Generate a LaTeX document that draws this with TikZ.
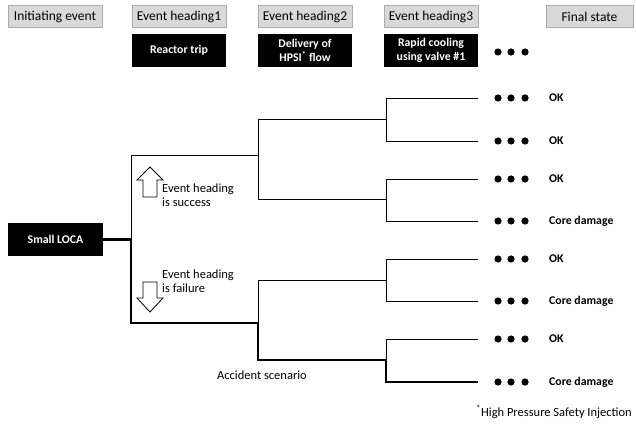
\documentclass[tikz,border=0pt]{standalone}
\usepackage{fontspec}
\setmainfont{Carlito}
\usetikzlibrary{positioning}

\begin{document}
\begin{tikzpicture}[x=1pt,y=-1pt,
    headbox/.style={draw=gray!65, fill=gray!30, minimum width=94pt, minimum height=22pt, inner sep=0pt, font=\fontsize{13.5}{15}\selectfont},
    eventbox/.style={fill=black, text=white, minimum width=94pt, minimum height=33pt, inner sep=0pt, align=center, font=\fontsize{11.8}{14}\selectfont\bfseries},
    branch/.style={line width=0.8pt},
    scenario/.style={line width=2.5pt, line join=miter},
    endlabel/.style={anchor=west, inner sep=0pt, font=\fontsize{11.8}{14}\selectfont\bfseries},
    note/.style={align=left, inner sep=0pt, font=\fontsize{12.5}{14}\selectfont},
    blockarrow/.style={draw, fill=white, line width=0.8pt}]
  \useasboundingbox (0,0) rectangle (636,427);

  % headings
  \node[headbox] (init) at (55,16.5) {Initiating event};
  \node[headbox] (head1) at (179,16.5) {Event heading1};
  \node[headbox] (head2) at (305,16.5) {Event heading2};
  \node[headbox] (head3) at (431,16.5) {Event heading3};
  \node[headbox, minimum width=87pt] (final) at (589.5,16.5) {Final state};

  \node[eventbox, below=6pt of head1] (trip) {Reactor trip};
  \node[eventbox, below=6pt of head2] (hpsi) {Delivery of\\HPSI\textsuperscript{*} flow};
  \node[eventbox, below=6pt of head3] (cool) {Rapid cooling\\using valve \#1};

  \node[eventbox, minimum width=95pt] (loca) at (55.5,239.5) {Small LOCA};

  % branch points
  \coordinate (s0) at (131,239.5);
  \coordinate (s1) at (258,155);
  \coordinate (s2) at (258,323);
  \coordinate (s11) at (386,119);
  \coordinate (s12) at (386,199);
  \coordinate (s21) at (386,280);
  \coordinate (s22) at (386,360);

  % end states
  \coordinate (e1) at (478,98);
  \coordinate (e2) at (478,141);
  \coordinate (e3) at (478,179);
  \coordinate (e4) at (478,221);
  \coordinate (e5) at (478,259);
  \coordinate (e6) at (478,301);
  \coordinate (e7) at (478,339);
  \coordinate (e8) at (478,382);
  \node[endlabel] (f1) at (549,98) {OK};
  \node[endlabel] (f2) at (549,141) {OK};
  \node[endlabel] (f3) at (549,179) {OK};
  \node[endlabel] (f4) at (549,221) {Core damage};
  \node[endlabel] (f5) at (549,259) {OK};
  \node[endlabel] (f6) at (549,301) {Core damage};
  \node[endlabel] (f7) at (549,339) {OK};
  \node[endlabel] (f8) at (549,382) {Core damage};

  \foreach \y in {52,98,141,179,221,259,301,339,382}
    \foreach \x in {498,511,525}
      \fill (\x,\y) circle (3.6);

  % tree
  \draw[branch] (s0) |- (s1);
  \draw[branch] (s1) |- (s11);
  \draw[branch] (s1) |- (s12);
  \draw[branch] (s2) |- (s21);
  \draw[branch] (s11) |- (e1);
  \draw[branch] (s11) |- (e2);
  \draw[branch] (s12) |- (e3);
  \draw[branch] (s12) |- (e4);
  \draw[branch] (s21) |- (e5);
  \draw[branch] (s21) |- (e6);
  \draw[branch] (s22) |- (e7);
  \draw[scenario] (loca.east) -- (s0) |- (s2) |- (s22) |- (e8);

  % success / failure
  \draw[blockarrow] (143,197) -- (143,180) -- (137,180) -- (150,167) -- (163,180) -- (157,180) -- (157,197) -- cycle;
  \draw[blockarrow] (143,282) -- (157,282) -- (157,298) -- (163,298) -- (150,312) -- (137,298) -- (143,298) -- cycle;
  \node[note, anchor=west] (success) at (162,195) {Event heading\\is success};
  \node[note, anchor=west] (failure) at (162,281) {Event heading\\is failure};
  \node[note] (scen) at (262,375) {Accident scenario};

  \node[note, anchor=east] (foot) at (632,412) {\textsuperscript{*}High Pressure Safety Injection};
\end{tikzpicture}
\end{document}
